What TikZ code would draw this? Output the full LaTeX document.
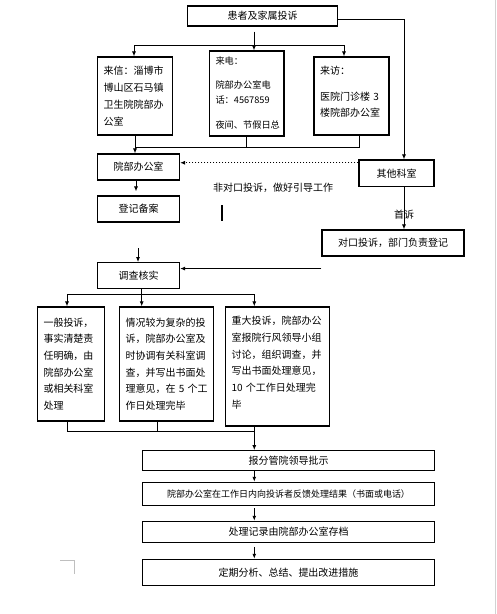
\documentclass[tikz,border=0pt]{standalone}
\usepackage{fontspec}
\setmainfont{Noto Sans CJK SC}
\usetikzlibrary{arrows.meta,calc}

\begin{document}
\begin{tikzpicture}[x=1pt,y=-1pt,>={Latex[length=5pt,width=4pt]},
  box/.style={draw,line width=1.1pt,inner sep=0pt,font=\fontsize{10}{12}\selectfont},
  txtbox/.style={draw,line width=1.1pt,inner xsep=6pt,inner ysep=0pt,align=left,
    font=\fontsize{10}{16.7}\selectfont},
  conn/.style={line width=1pt}]
  \useasboundingbox (0,0) rectangle (497,614);
  \fill[white] (0,0) rectangle (497,614);
  % page marks
  \draw[gray!35] (495,0) -- (495,614);
  \draw[gray!50] (60,560) -- (74.5,560) -- (74.5,574);

  % complaint channels
  \node[box,minimum width=150pt,minimum height=20pt] (top) at (262.5,16) {患者及家属投诉};
  \node[txtbox,text width=63pt,minimum height=78pt,font=\fontsize{10}{17}\selectfont] (laixin) at (135,96)
    {来信：淄博市\\博山区石马镇\\卫生院院部办\\公室};
  \node[txtbox,text width=62.5pt,minimum height=85pt,font=\fontsize{9.2}{15}\selectfont] (laidian) at (246.75,93.5)
    {来电：\\[9pt]院部办公室电\\话：4567859\\[10pt]夜间、节假日总};
  \node[txtbox,text width=63pt,minimum height=78pt,font=\fontsize{10}{16}\selectfont] (laifang) at (351.5,96)
    {来访：\\[10pt]医院门诊楼~3\\楼院部办公室\\[-6pt]\mbox{}};

  % offices
  \node[box,minimum width=82pt,minimum height=26pt] (office) at (138.5,167) {院部办公室};
  \node[box,minimum width=75pt,minimum height=26.5pt] (other) at (396.5,173.25) {其他科室};
  \node[box,minimum width=82pt,minimum height=26pt] (register) at (138.5,209) {登记备案};
  \node[box,minimum width=142pt,minimum height=26pt] (duikou) at (393,243) {对口投诉，部门负责登记};
  \node[box,minimum width=82pt,minimum height=26pt] (check) at (138.5,275.7) {调查核实};
  \node[font=\fontsize{10}{12}\selectfont] (guide) at (273,188) {非对口投诉，做好引导工作};
  \draw[line width=2pt] (222,205) -- (222,221);

  % handling by grade
  \node[txtbox,text width=55pt,minimum height=114pt] (c1) at (71,364)
    {一般投诉，\\事实清楚责\\任明确，由\\院部办公室\\或相关科室\\处理};
  \node[txtbox,text width=82pt,minimum height=114pt] (c2) at (166.5,364)
    {情况较为复杂的投\\诉，院部办公室及\\时协调有关科室调\\查，并写出书面处\\理意见，在~5~个工\\作日处理完毕};
  \node[txtbox,text width=92pt,minimum height=119pt] (c3) at (277.5,366.5)
    {重大投诉，院部办公\\室报院行风领导小组\\讨论，组织调查，并\\写出书面处理意见，\\10~个工作日处理完\\毕\\[-8pt]\mbox{}};

  % results
  \node[box,minimum width=292pt,minimum height=20pt] (r1) at (288.5,460.7) {报分管院领导批示};
  \node[box,minimum width=292pt,minimum height=23.4pt,font=\fontsize{9}{11}\selectfont] (r2) at (288.5,494)
    {院部办公室在工作日内向投诉者反馈处理结果（书面或电话）};
  \node[box,minimum width=292pt,minimum height=21pt] (r3) at (288.5,531.8) {处理记录由院部办公室存档};
  \node[box,minimum width=292pt,minimum height=26pt] (r4) at (288.5,572.3) {定期分析、总结、提出改进措施};

  % connectors: channels
  \coordinate (split) at (254,45);
  \draw[conn,shorten <=5pt] ([xshift=-8.5pt]top.south) -- (split);
  \draw[conn,->] (split) -| ([xshift=-1pt]laixin.north);
  \draw[conn,->] (split) -- (split |- laidian.north);
  \draw[conn,->] (split) -| ([xshift=-7.5pt]laifang.north);
  \draw[conn,->] ([yshift=-3pt]top.east) -| ([xshift=7.5pt]other.north);

  \coordinate (merge) at (135,147);
  \draw[conn] (laixin.south -| merge) -- (merge) -- ([xshift=8pt]laifang.south |- merge) -- ([xshift=8pt]laifang.south);
  \draw[conn] (laidian.south) -- (laidian.south |- merge);
  \draw[conn,->] (merge) -- (merge |- office.north);

  \draw[line width=1.3pt,dash pattern=on 1.5pt off 1.5pt,->] ([yshift=10.5pt]other.west) -- ([yshift=10.5pt]other.west -| office.east);
  \draw[conn,->,shorten >=4pt] ([xshift=-2.5pt]office.south) -- ([xshift=-2.5pt]register.north);
  \draw[conn,->] ([xshift=7.5pt]other.south) -- node[pos=0.66,font=\fontsize{10}{12}\selectfont] {首诉}
    ([xshift=7.5pt]other.south |- duikou.north);

  \coordinate (dkfoot) at ($(duikou.south west)+(0,12)$);
  \draw[conn,->] (dkfoot) -- (dkfoot -| check.east);
  \coordinate (regfoot) at (138,248);
  \draw[conn,->] (regfoot) -- (regfoot |- check.north);

  % connectors: handling
  \coordinate (fork) at (141.7,294.3);
  \draw[conn] (fork |- check.south) -- (fork);
  \draw[conn,->] (fork) -| ([xshift=-4pt]c1.north);
  \draw[conn,->] (fork) -- (fork |- c2.north);
  \draw[conn,->] (fork) -| ([xshift=-23.2pt]c3.north);

  \coordinate (join) at (254.3,431.7);
  \draw[conn] ([xshift=-3.3pt]c1.south) |- (join);
  \draw[conn] ([xshift=-9.2pt]c2.south) -- ([xshift=-9.2pt]c2.south |- join);
  \draw[conn] (join |- c3.south) -- (join);
  \draw[conn,->] (join) -- (join |- r1.north);
  \draw[conn,->] (r1.south -| join) -- (r2.north -| join);
  \draw[conn,->,shorten <=2pt] (r2.south -| join) -- (r3.north -| join);
  \draw[conn,->,shorten <=4pt] (r3.south -| join) -- (r4.north -| join);
\end{tikzpicture}
\end{document}
